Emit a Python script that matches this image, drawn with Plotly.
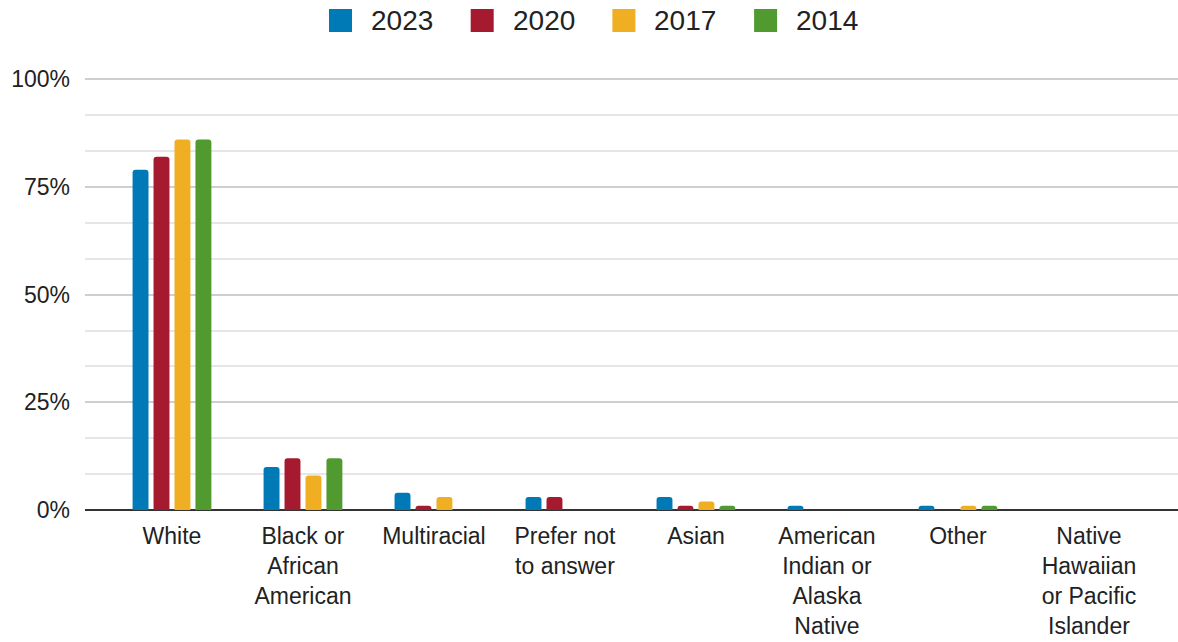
import plotly.graph_objects as go

categories = ["White", "Black or<br>African<br>American", "Multiracial", "Prefer not<br>to answer",
              "Asian", "American<br>Indian or<br>Alaska<br>Native", "Other",
              "Native<br>Hawaiian<br>or Pacific<br>Islander"]
years = ["2023", "2020", "2017", "2014"]
v2023 = [79, 10, 4, 3, 3, 1, 1, 0]
v2020 = [82, 12, 1, 3, 1, 0, 0, 0]
v2017 = [86, 8, 3, 0, 2, 0, 1, 0]
v2014 = [86, 12, 0, 0, 1, 0, 1, 0]
series = [v2023, v2020, v2017, v2014]
colors = ["#0079B7", "#A51A2F", "#F0AE23", "#519A2F"]

FONT = "Arial, Liberation Sans, sans-serif"

fig = go.Figure()
xs = list(range(len(categories)))
for name, vals, col in zip(years, series, colors):
    fig.add_trace(go.Bar(
        x=xs, y=vals, name=name, marker=dict(color=col, cornerradius=3, line=dict(width=0)),
        showlegend=False, hovertemplate="%{y}%<extra>" + name + "</extra>"))

# manual legend (large squares)
shapes = []
annotations = []
for i, (name, col) in enumerate(zip(years, colors)):
    x0 = 329 + 141.7 * i
    shapes.append(dict(type="rect", xref="paper", yref="paper",
                       x0=(x0 - 85) / 1093, x1=(x0 + 23 - 85) / 1093,
                       y0=(510 - 32) / 432, y1=(510 - 9) / 432,
                       fillcolor=col, line=dict(width=0), layer="above"))
    annotations.append(dict(text=name, xref="paper", yref="paper",
                            x=(x0 + 40 - 85) / 1093, y=(510 - 20.5) / 432,
                            xanchor="left", yanchor="middle", showarrow=False,
                            font=dict(family=FONT, size=28, color="#222")))

fig.update_layout(
    width=1178, height=642,
    margin=dict(l=85, r=0, t=78, b=132),
    paper_bgcolor="white", plot_bgcolor="white",
    barmode="group", bargap=0.36, bargroupgap=0.24,
    font=dict(family=FONT, size=22, color="#222"),
    shapes=shapes, annotations=annotations,
    xaxis=dict(
        tickmode="array", tickvals=xs, ticktext=categories,
        range=[-0.664, 7.68], showgrid=False, zeroline=False, showline=False,
        ticks="", ticklabelstandoff=10,
        tickfont=dict(family=FONT, size=23, color="#222"),
        fixedrange=True,
    ),
    yaxis=dict(
        range=[0, 100.3], tickvals=[0, 25, 50, 75, 100],
        ticktext=["0%", "25%", "50%", "75%", "100%"],
        showgrid=True, gridcolor="#CFCFCF", gridwidth=1.5,
        minor=dict(dtick=100 / 12, tick0=0, showgrid=True, gridcolor="#E6E6E6", gridwidth=1.5),
        zeroline=True, zerolinecolor="#333333", zerolinewidth=2,
        showline=False, ticks="", ticklabelstandoff=14,
        tickfont=dict(family=FONT, size=23, color="#222"),
        fixedrange=True,
    ),
)

fig.write_html("out.html")
